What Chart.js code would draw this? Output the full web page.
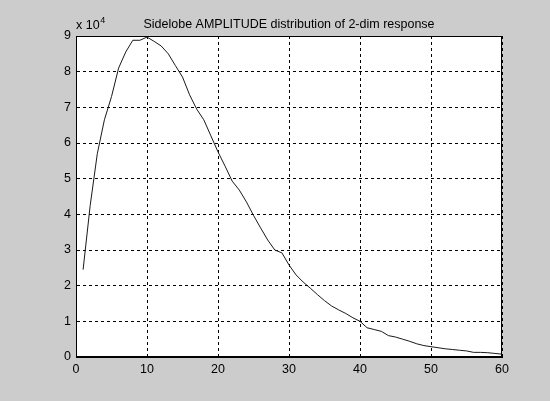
<!DOCTYPE html>
<html>
<head>
<meta charset="utf-8">
<script src="https://cdn.jsdelivr.net/npm/chart.js@4/dist/chart.umd.min.js"></script>
<style>
    html, body { margin: 0; padding: 0; background: #cccccc; }
    #wrap { width: 550px; height: 401px; }
</style>
</head>
<body>
<div id="wrap"><canvas id="grafico"></canvas></div>
<script>
// sample index (1..60)
const indices = [
    1, 2, 3, 4, 5, 6, 7, 8, 9, 10,
    11, 12, 13, 14, 15, 16, 17, 18, 19, 20,
    21, 22, 23, 24, 25, 26, 27, 28, 29, 30,
    31, 32, 33, 34, 35, 36, 37, 38, 39, 40,
    41, 42, 43, 44, 45, 46, 47, 48, 49, 50,
    51, 52, 53, 54, 55, 56, 57, 58, 59, 60
];
// sidelobe amplitude counts
const amplitudes = [
    24500, 42500, 57000, 66500, 73000, 81000, 85500, 88800, 88800, 89700,
    88500, 87200, 85000, 81700, 78500, 73500, 69500, 66500, 62000, 57500,
    53500, 49300, 46800, 43500, 39700, 36200, 32800, 30000, 29200, 25800,
    23000, 21000, 19300, 17500, 15800, 14300, 13200, 12200, 11000, 10000,
    8200, 7700, 7200, 6000, 5600, 5000, 4400, 3700, 3200, 2900,
    2600, 2300, 2100, 1900, 1700, 1300, 1300, 1200, 1000, 800
];
const yTicks = [0, 1, 2, 3, 4, 5, 6, 7, 8, 9];
const xTicks = [0, 10, 20, 30, 40, 50, 60];
const titulo = 'Sidelobe AMPLITUDE distribution of 2-dim response';

const familia = 'Arial, "Liberation Sans", Helvetica, sans-serif';
const fonte = { family: familia, size: 12.5 };

const molduraPlugin = {
    id: 'moldura',
    beforeDraw(chart) {
        const { ctx, chartArea: a } = chart;
        ctx.save();
        ctx.fillStyle = '#cccccc';
        ctx.fillRect(0, 0, chart.width, chart.height);
        ctx.fillStyle = '#ffffff';
        ctx.fillRect(a.left, a.top, a.right - a.left, a.bottom - a.top);
        ctx.restore();
    },
    afterDraw(chart) {
        const { ctx, chartArea: a } = chart;
        ctx.save();
        ctx.strokeStyle = '#000000';
        ctx.lineWidth = 1;
        ctx.strokeRect(Math.round(a.left) + 0.5, Math.round(a.top) + 0.5,
            Math.round(a.right - a.left) - 1, Math.round(a.bottom - a.top) - 1);
        ctx.fillStyle = '#000000';
        ctx.font = '12.5px ' + familia;
        ctx.textBaseline = 'alphabetic';
        ctx.textAlign = 'center';
        ctx.fillText(titulo, (a.left + a.right) / 2, 28);
        ctx.textAlign = 'left';
        ctx.fillText('x 10', a.left, 29);
        const w = ctx.measureText('x 10').width;
        ctx.font = '9px ' + familia;
        ctx.fillText('4', a.left + w + 0.5, 23);
        ctx.restore();
    }
};

const ctx = document.getElementById('grafico').getContext('2d');
new Chart(ctx, {
    type: 'line',
    data: {
        datasets: [{
            data: indices.map((x, i) => ({ x, y: amplitudes[i] })),
            borderColor: '#1a1a1a',
            borderWidth: 1,
            pointRadius: 0,
            tension: 0,
            fill: false
        }]
    },
    options: {
        responsive: true,
        maintainAspectRatio: false,
        animation: false,
        layout: { padding: { top: 36, right: 48, left: 0, bottom: 0 } },
        plugins: { legend: { display: false }, tooltip: { enabled: false } },
        scales: {
            x: {
                type: 'linear',
                min: 0,
                max: 60,
                afterFit: s => { s.height = 44; },
                afterBuildTicks: s => { s.ticks = xTicks.map(v => ({ value: v })); },
                ticks: { color: '#000', font: fonte, padding: 5, maxRotation: 0 },
                grid: { color: '#000', drawTicks: false, lineWidth: 1 },
                border: { color: '#000', dash: [3, 3] }
            },
            y: {
                min: 0,
                max: 90000,
                afterFit: s => { s.width = 76; },
                afterBuildTicks: s => { s.ticks = yTicks.map(v => ({ value: v * 10000 })); },
                ticks: { color: '#000', font: fonte, padding: 5, callback: v => v / 10000 },
                grid: { color: '#000', drawTicks: false, lineWidth: 1 },
                border: { color: '#000', dash: [3, 3] }
            }
        }
    },
    plugins: [molduraPlugin]
});
</script>
</body>
</html>
